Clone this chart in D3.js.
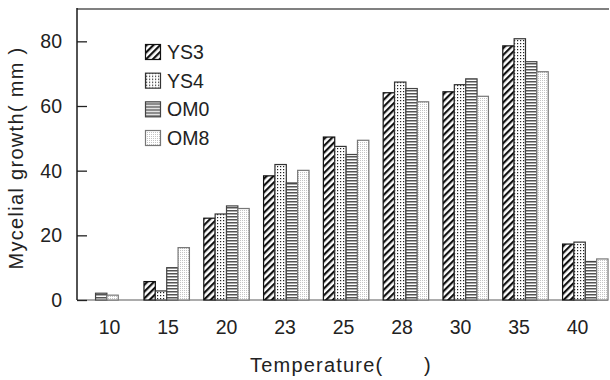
<!DOCTYPE html>
<html>
<head>
<meta charset="utf-8">
<script src="https://cdn.jsdelivr.net/npm/d3@7"></script>
<style>
  html, body { margin: 0; padding: 0; background: #fff; }
  svg { display: block; font-family: "Liberation Sans", Arial, sans-serif; }
</style>
</head>
<body>
<svg id="chart" width="610" height="380"></svg>
<script>
// Mycelial growth (mm) of four strains across incubation temperatures
const temperatures = ["10", "15", "20", "23", "25", "28", "30", "35", "40"];
const seriesNames = ["YS3", "YS4", "OM0", "OM8"];
const ys3 = [null, 5.7, 25.3, 38.4, 50.4, 64.1, 64.4, 78.6, 17.3];
const ys4 = [null, 2.8, 26.6, 41.9, 47.5, 67.4, 66.6, 80.8, 17.9];
const om0 = [2.1, 10.0, 29.1, 36.2, 45.0, 65.4, 68.4, 73.7, 11.9];
const om8 = [1.5, 16.2, 28.3, 40.1, 49.4, 61.3, 63.0, 70.6, 12.7];
const yTicks = [0, 20, 40, 60, 80];

const seriesValues = [ys3, ys4, om0, om8];

const svg = d3.select("#chart");
const plotLeft = 77, plotTop = 9, plotBottom = 300, plotRight = 609;

const x = d3.scaleBand().domain(temperatures).range([77, 615.2])
  .paddingInner(0.24).paddingOuter(0.12);
const xLabel = d3.scalePoint().domain(temperatures).range([109, 577]);
const y = d3.scaleLinear().domain([0, 90]).range([plotBottom, plotTop]);

// fill patterns
const defs = svg.append("defs");
const hatch = defs.append("pattern").attr("id", "p-YS3")
  .attr("patternUnits", "userSpaceOnUse").attr("width", 4.8).attr("height", 4.8)
  .attr("patternTransform", "rotate(45)");
hatch.append("rect").attr("width", 4.8).attr("height", 4.8).attr("fill", "#fff");
hatch.append("rect").attr("width", 2.2).attr("height", 4.8).attr("fill", "#111");

const dots = defs.append("pattern").attr("id", "p-YS4")
  .attr("patternUnits", "userSpaceOnUse").attr("width", 3).attr("height", 3);
dots.append("rect").attr("width", 3).attr("height", 3).attr("fill", "#fff");
dots.append("rect").attr("x", 1).attr("y", 1).attr("width", 1.2).attr("height", 1.2).attr("fill", "#222");

const stripes = defs.append("pattern").attr("id", "p-OM0")
  .attr("patternUnits", "userSpaceOnUse").attr("width", 4).attr("height", 3);
stripes.append("rect").attr("width", 4).attr("height", 3).attr("fill", "#fff");
stripes.append("rect").attr("y", 0).attr("width", 4).attr("height", 1.5).attr("fill", "#555");

const fine = defs.append("pattern").attr("id", "p-OM8")
  .attr("patternUnits", "userSpaceOnUse").attr("width", 2).attr("height", 2);
fine.append("rect").attr("width", 2).attr("height", 2).attr("fill", "#fff");
fine.append("rect").attr("width", 1).attr("height", 1).attr("fill", "#c4c4c4");

const strokes = { YS3: "#111", YS4: "#333", OM0: "#444", OM8: "#777" };

// frame lines
svg.append("line").attr("x1", plotLeft).attr("x2", plotRight).attr("y1", plotTop).attr("y2", plotTop)
  .attr("stroke", "#808080").attr("stroke-width", 2);
svg.append("line").attr("x1", plotLeft).attr("x2", 608).attr("y1", plotBottom).attr("y2", plotBottom)
  .attr("stroke", "#909090").attr("stroke-width", 1.5);

// bars: present values of each temperature are laid out centred in its band
const barW = x.bandwidth() / seriesNames.length;
temperatures.forEach((t, i) => {
  const present = seriesNames
    .map((name, k) => ({ name, value: seriesValues[k][i] }))
    .filter(d => d.value != null);
  const groupW = present.length * barW;
  const x0 = x(t) + (x.bandwidth() - groupW) / 2;
  const g = svg.append("g");
  g.selectAll("rect").data(present).join("rect")
    .attr("x", (d, k) => x0 + k * barW)
    .attr("y", d => y(d.value))
    .attr("width", barW)
    .attr("height", d => y(0) - y(d.value))
    .attr("fill", d => `url(#p-${d.name})`)
    .attr("stroke", d => strokes[d.name])
    .attr("stroke-width", 1.2);
});

// left axis with inward ticks
const yAxis = d3.axisRight(y).tickValues(yTicks).tickSize(10).tickFormat("");
svg.append("g").attr("transform", `translate(${plotLeft},0)`).call(yAxis)
  .call(g => g.select(".domain").remove())
  .call(g => g.selectAll("line").attr("stroke", "#222").attr("stroke-width", 1.3));
svg.append("line").attr("x1", plotLeft).attr("x2", plotLeft).attr("y1", plotTop - 1).attr("y2", plotBottom)
  .attr("stroke", "#1a1a1a").attr("stroke-width", 1.5);

svg.append("g").selectAll("text").data(yTicks).join("text")
  .attr("x", 62).attr("y", d => y(d) + 7)
  .attr("text-anchor", "end").attr("font-size", 19.5).attr("fill", "#222")
  .text(d => d);

// category labels
const xAxis = d3.axisBottom(xLabel).tickSize(0).tickPadding(0);
svg.append("g").attr("transform", `translate(0,${plotBottom})`).call(xAxis)
  .call(g => g.select(".domain").remove())
  .call(g => g.selectAll("text").attr("y", 34).attr("dy", 0)
    .attr("font-size", 19.5).attr("fill", "#222")
    .attr("font-family", "'Liberation Sans', Arial, sans-serif"));

// axis titles
svg.append("text").attr("x", 250).attr("y", 372)
  .attr("font-size", 20).attr("letter-spacing", 1.2).attr("fill", "#222")
  .text("Temperature(\u00a0\u00a0\u00a0\u00a0\u00a0 )");

svg.append("text")
  .attr("transform", "translate(23,158) rotate(-90)")
  .attr("text-anchor", "middle")
  .attr("font-size", 20).attr("letter-spacing", 1.3).attr("fill", "#222")
  .text("Mycelial growth( mm )");

// legend
const legY = d3.scalePoint().domain(seriesNames).range([52, 138]);
const leg = svg.append("g").selectAll("g").data(seriesNames).join("g")
  .attr("transform", d => `translate(145,${legY(d)})`);
leg.append("rect").attr("x", 0.5).attr("y", -7.5).attr("width", 15).attr("height", 15)
  .attr("fill", d => `url(#p-${d})`).attr("stroke", d => strokes[d]).attr("stroke-width", 1.2);
leg.append("text").attr("x", 22).attr("y", 7)
  .attr("font-size", 19.5).attr("fill", "#222").text(d => d);
</script>
</body>
</html>
